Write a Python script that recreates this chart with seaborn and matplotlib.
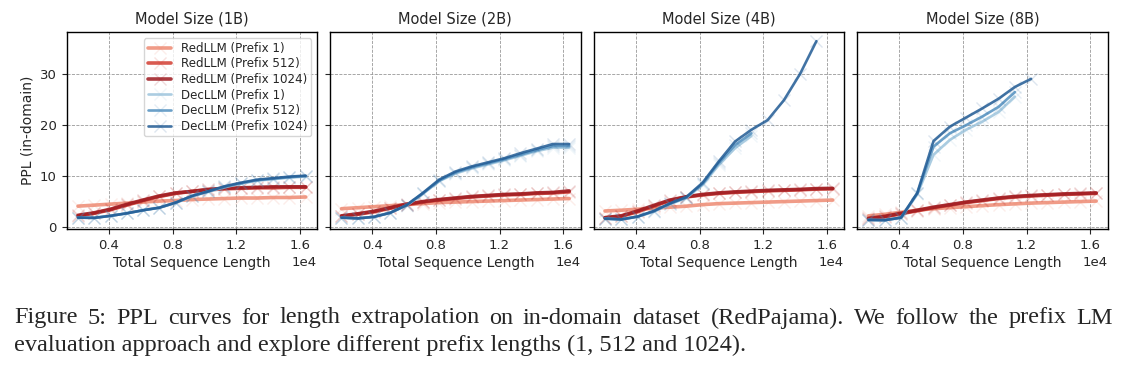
import numpy as np
import pandas as pd
import matplotlib
matplotlib.use("Agg")
import matplotlib.pyplot as plt
import seaborn as sns

# total sequence length (x axis)
seq_len = [2048, 3072, 4096, 5120, 6144, 7168, 8192, 9216, 10240,
           11264, 12288, 13312, 14336, 15360, 16384]

# ---- 1B ----
red1_1b = [4.0, 4.2, 4.4, 4.6, 4.8, 5.0, 5.1, 5.3, 5.4, 5.5, 5.6, 5.6, 5.7, 5.7, 5.8]
red512_1b = [2.1, 2.6, 3.3, 4.2, 5.1, 5.9, 6.5, 6.9, 7.2, 7.4, 7.5, 7.6, 7.6, 7.7, 7.7]
red1024_1b = [2.2, 2.7, 3.4, 4.35, 5.2, 6.0, 6.6, 6.9, 7.3, 7.5, 7.6, 7.7, 7.8, 7.8, 7.8]
dec1_1b = [1.75, 1.7, 2.1, 2.6, 3.2, 3.7, 4.6, 5.9, 6.8, 7.7, 8.4, 9.0, 9.3, 9.6, 9.8]
dec512_1b = [1.75, 1.7, 2.1, 2.6, 3.2, 3.7, 4.7, 6.0, 6.9, 7.8, 8.5, 9.1, 9.4, 9.7, 9.9]
dec1024_1b = [1.75, 1.7, 2.1, 2.6, 3.2, 3.7, 4.7, 6.0, 6.9, 7.9, 8.6, 9.2, 9.5, 9.8, 10.0]

# ---- 2B ----
red1_2b = [3.5, 3.7, 3.9, 4.1, 4.3, 4.5, 4.7, 4.8, 4.9, 5.0, 5.1, 5.2, 5.3, 5.4, 5.5]
red512_2b = [2.0, 2.4, 2.9, 3.6, 4.3, 4.8, 5.2, 5.5, 5.8, 6.0, 6.2, 6.3, 6.5, 6.6, 6.8]
red1024_2b = [2.1, 2.5, 3.0, 3.7, 4.4, 4.9, 5.3, 5.6, 5.9, 6.1, 6.3, 6.4, 6.6, 6.7, 7.0]
dec1_2b = [1.75, 1.6, 1.9, 2.7, 4.1, 6.4, 8.9, 10.4, 11.4, 12.2, 13.0, 13.9, 14.8, 15.5, 15.5]
dec512_2b = [1.75, 1.6, 1.9, 2.7, 4.2, 6.5, 9.0, 10.6, 11.6, 12.4, 13.2, 14.1, 15.0, 15.8, 15.8]
dec1024_2b = [1.75, 1.6, 1.9, 2.7, 4.2, 6.6, 9.2, 10.8, 11.8, 12.6, 13.4, 14.4, 15.3, 16.2, 16.2]

# ---- 4B ----
red1_4b = [3.05, 3.2, 3.4, 3.6, 3.8, 4.0, 4.3, 4.5, 4.6, 4.7, 4.8, 4.9, 5.0, 5.1, 5.2]
red512_4b = [1.7, 2.0, 2.9, 4.0, 5.1, 5.8, 6.2, 6.5, 6.7, 6.85, 7.0, 7.1, 7.2, 7.35, 7.4]
red1024_4b = [1.75, 2.1, 3.05, 4.15, 5.2, 5.85, 6.3, 6.6, 6.8, 6.95, 7.1, 7.2, 7.3, 7.45, 7.5]
dec1_4b = [1.55, 1.4, 1.9, 2.9, 4.4, 5.6, 8.2, 12.1, 15.4, 17.8]
dec512_4b = [1.55, 1.4, 1.95, 3.0, 4.5, 5.7, 8.4, 12.5, 16.0, 18.3]
dec1024_4b = [1.55, 1.4, 1.95, 3.05, 4.55, 5.8, 8.6, 12.8, 16.7, 19.0, 20.9, 24.8, 30.0, 36.4]

# ---- 8B ----
red1_8b = [2.1, 2.4, 2.8, 3.2, 3.5, 3.7, 3.9, 4.1, 4.3, 4.45, 4.6, 4.7, 4.8, 4.9, 5.0]
red512_8b = [1.5, 1.9, 2.5, 3.1, 3.7, 4.2, 4.7, 5.1, 5.5, 5.8, 6.0, 6.15, 6.3, 6.4, 6.5]
red1024_8b = [1.6, 2.0, 2.6, 3.2, 3.8, 4.3, 4.8, 5.2, 5.6, 5.9, 6.1, 6.25, 6.4, 6.5, 6.6]
dec1_8b = [1.3, 1.25, 1.7, 6.3, 14.1, 17.0, 19.0, 20.6, 22.5, 25.5]
dec512_8b = [1.3, 1.25, 1.75, 6.5, 15.7, 18.3, 19.9, 21.6, 23.5, 26.4]
dec1024_8b = [1.3, 1.25, 1.75, 6.6, 16.8, 19.6, 21.4, 23.2, 25.1, 27.4, 29.0]

model_sizes = ["1B", "2B", "4B", "8B"]
series_names = ["RedLLM (Prefix 1)", "RedLLM (Prefix 512)", "RedLLM (Prefix 1024)",
                "DecLLM (Prefix 1)", "DecLLM (Prefix 512)", "DecLLM (Prefix 1024)"]
panel_data = {
    "1B": [red1_1b, red512_1b, red1024_1b, dec1_1b, dec512_1b, dec1024_1b],
    "2B": [red1_2b, red512_2b, red1024_2b, dec1_2b, dec512_2b, dec1024_2b],
    "4B": [red1_4b, red512_4b, red1024_4b, dec1_4b, dec512_4b, dec1024_4b],
    "8B": [red1_8b, red512_8b, red1024_8b, dec1_8b, dec512_8b, dec1024_8b],
}

# long-form table
rows = []
for size in model_sizes:
    for name, ys in zip(series_names, panel_data[size]):
        for xv, yv in zip(seq_len, ys):
            rows.append((size, name, xv, yv))
df = pd.DataFrame(rows, columns=["size", "series", "length", "ppl"])

colors = {
    "RedLLM (Prefix 1)": "#ee8a72",
    "RedLLM (Prefix 512)": "#d33d31",
    "RedLLM (Prefix 1024)": "#9e1a20",
    "DecLLM (Prefix 1)": "#9cc4dc",
    "DecLLM (Prefix 512)": "#5290bf",
    "DecLLM (Prefix 1024)": "#215b94",
}
widths = {n: (2.6 if n.startswith("Red") else 1.9) for n in series_names}

sns.set_style("ticks")
plt.rcParams["font.family"] = ["DejaVu Sans"]

fig, axes = plt.subplots(1, 4, figsize=(11.29, 3.66), dpi=100, sharey=True)
fig.subplots_adjust(left=0.059, right=0.981, top=0.912, bottom=0.374, wspace=0.052)

for ax, size in zip(axes, model_sizes):
    sub = df[df["size"] == size]
    for name in series_names:
        s = sub[sub["series"] == name]
        rgb = matplotlib.colors.to_rgb(colors[name])
        sns.lineplot(data=s, x="length", y="ppl", ax=ax, label=name,
                     color=rgb + (0.85,), lw=widths[name],
                     marker="x", markersize=8, markeredgewidth=1.0,
                     markeredgecolor=rgb + (0.15,), legend=False)
    ax.set_title(f"Model Size ({size})", fontsize=10.5)
    ax.set_xlabel("Total Sequence Length", fontsize=10, labelpad=3)
    ax.set_ylabel("PPL (in-domain)", fontsize=10)
    ax.set_xticks([4000, 8000, 12000, 16000])
    ax.ticklabel_format(axis="x", style="sci", scilimits=(0, 0))
    ax.tick_params(labelsize=9.5)
    ax.xaxis.get_offset_text().set_fontsize(9.5)
    ax.grid(True, linestyle="--", linewidth=0.6, color="#999999")
    for sp in ax.spines.values():
        sp.set_color("black")
        sp.set_linewidth(1.0)

axes[0].set_yticks([0, 10, 20, 30])
axes[0].legend(loc="upper right", fontsize=8.6, handlelength=2.0,
               labelspacing=0.22, borderpad=0.3, framealpha=0.8)

# caption, first line justified
cap1 = ("Figure 5:  PPL curves for length extrapolation on in-domain dataset "
        "(RedPajama).  We follow the prefix LM").split()
cap2 = "evaluation approach and explore different prefix lengths (1, 512 and 1024)."
cap_font = dict(family="Liberation Serif", fontsize=17.5, va="center")
x0, x1 = 14 / 1129, 1113 / 1129
renderer = fig.canvas.get_renderer()
word_w = []
for w in cap1:
    t = fig.text(0, 0, w, **cap_font)
    word_w.append(t.get_window_extent(renderer).width / fig.bbox.width)
    t.remove()
gap = (x1 - x0 - sum(word_w)) / (len(cap1) - 1)
xpos = x0
for w, ww in zip(cap1, word_w):
    fig.text(xpos, 1 - 318 / 366, w, **cap_font)
    xpos += ww + gap
fig.text(x0, 1 - 345 / 366, cap2, **cap_font)

fig.savefig("out.png", dpi=100)
